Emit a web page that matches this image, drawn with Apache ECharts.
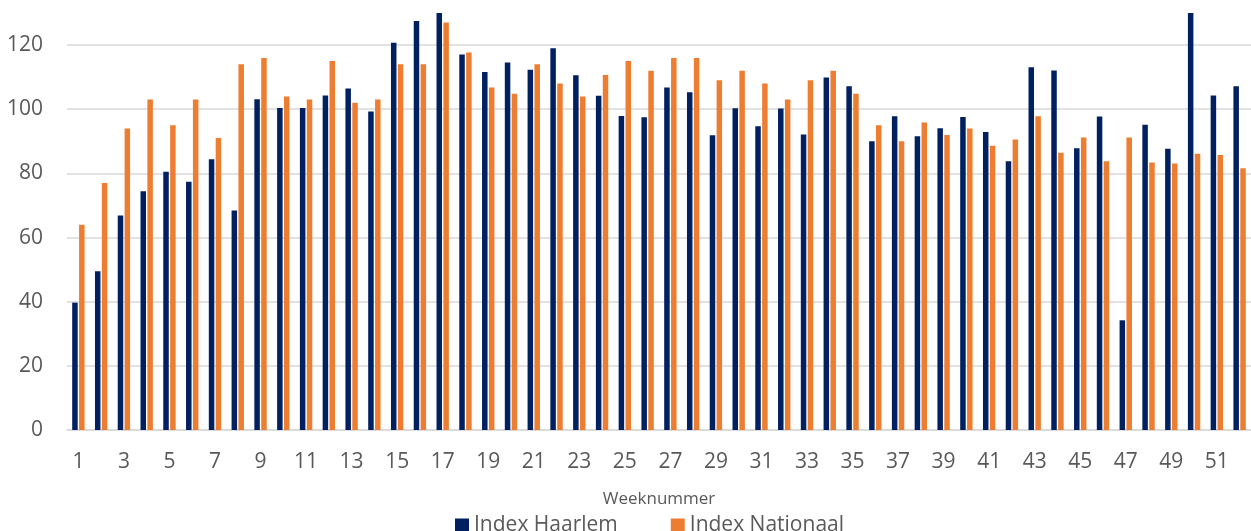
<!DOCTYPE html>
<html>
<head>
<meta charset="utf-8">
<script src="https://cdn.jsdelivr.net/npm/echarts@6/dist/echarts.min.js"></script>
<style>
  html, body { margin: 0; padding: 0; background: #fff; }
  #chart { width: 1251px; height: 531px; }
</style>
</head>
<body>
<div id="chart"></div>
<script>
// weeknummers 1..52
var weeks = [];
for (var w = 1; w <= 52; w++) weeks.push(String(w));

var indexHaarlem = [
  39.7, 49.5, 66.9, 74.4, 80.5, 77.4, 84.4, 68.4, 103.1, 100.4,
  100.4, 104.3, 106.5, 99.3, 120.7, 127.5, 130, 117.1, 111.6, 114.6,
  112.3, 119.0, 110.6, 104.2, 97.9, 97.5, 106.8, 105.3, 91.9, 100.3,
  94.7, 100.2, 92.1, 109.9, 107.2, 90.0, 97.8, 91.6, 94.1, 97.6,
  92.9, 83.8, 113.1, 112.1, 87.8, 97.7, 34.2, 95.2, 87.7, 130,
  104.3, 107.2
];

var indexNationaal = [
  64, 77, 94, 103, 95, 103, 91, 114, 116, 104,
  103, 115, 102, 103, 114, 114, 127, 117.7, 106.8, 104.8,
  114, 108, 104, 110.7, 115, 112, 116, 116, 109, 112,
  108, 103, 109, 112, 104.8, 95, 90, 95.9, 92, 94,
  88.6, 90.6, 97.8, 86.4, 91.2, 83.8, 91.2, 83.4, 83.1, 86.1,
  85.7, 81.6
];

var textColor = '#595959';
var font = '"Open Sans", sans-serif';

var myChart = echarts.init(document.getElementById('chart'));
var option = {
  animation: false,
  grid: {
    left: 67,
    top: 13,
    width: 1189,
    height: 417,
    containLabel: false
  },
  legend: {
    data: ['Index Haarlem', 'Index Nationaal'],
    left: 450,
    top: 510,
    itemWidth: 14,
    itemHeight: 14,
    itemGap: 53,
    icon: 'rect',
    textStyle: { color: textColor, fontSize: 21, fontFamily: font }
  },
  xAxis: {
    type: 'category',
    data: weeks,
    name: 'Weeknummer',
    nameLocation: 'middle',
    nameGap: 61,
    nameTextStyle: { color: textColor, fontSize: 17, fontFamily: font },
    axisLine: { lineStyle: { color: '#d9d9d9', width: 1.5 } },
    axisTick: { show: false },
    axisLabel: {
      interval: 1,
      margin: 22,
      color: textColor,
      fontSize: 21,
      fontFamily: font
    }
  },
  yAxis: {
    type: 'value',
    min: 0,
    max: 130,
    interval: 20,
    axisLine: { show: false },
    axisTick: { show: false },
    splitLine: { showMaxLine: false, lineStyle: { color: '#d9d9d9', width: 1.5 } },
    axisLabel: {
      margin: 24,
      color: textColor,
      fontSize: 21,
      fontFamily: font,
      showMaxLabel: false
    }
  },
  series: [
    {
      name: 'Index Haarlem',
      type: 'bar',
      data: indexHaarlem,
      barWidth: 5.5,
      barGap: '25%',
      itemStyle: { color: '#002060' }
    },
    {
      name: 'Index Nationaal',
      type: 'bar',
      data: indexNationaal,
      barWidth: 5.5,
      barGap: '25%',
      itemStyle: { color: '#ED7D31' }
    }
  ]
};
myChart.setOption(option);
window.addEventListener('resize', function () {
  myChart.resize();
});
</script>
</body>
</html>
